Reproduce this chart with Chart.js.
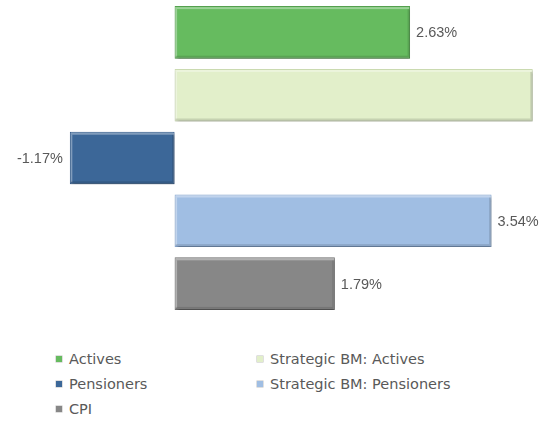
<!DOCTYPE html>
<html>
<head>
<meta charset="utf-8">
<script src="https://cdn.jsdelivr.net/npm/chart.js@4/dist/chart.umd.min.js"></script>
<style>
    body { margin: 0; background: #fff; }
    #wrap { position: relative; width: 539px; height: 421px; }
    #barChart { position: absolute; left: 0; top: 0; }
    #legend {
        position: absolute; left: 56px; top: 347px;
        display: grid; grid-template-columns: 201px auto;
    }
    .item {
        display: flex; align-items: center; height: 24.75px;
        font: 14.5px "DejaVu Sans", sans-serif; color: #595959; white-space: nowrap;
    }
    .box { width: 6px; height: 6px; margin-right: 7px; box-shadow: 0 0 0 0.5px rgba(0,0,0,0.25); }
</style>
</head>
<body>
<div id="wrap">
    <canvas id="barChart" width="539" height="315"></canvas>
    <div id="legend"></div>
</div>
<script>
const seriesNames = ['Actives', 'Strategic BM: Actives', 'Pensioners', 'Strategic BM: Pensioners', 'CPI'];
const returns = [2.63, 4.00, -1.17, 3.54, 1.79];
const barColors = ['#66bb5f', '#e2efca', '#3c6798', '#a0bee3', '#878787'];
const edgeColors = ['#56a450', '#cbdbb0', '#31598a', '#8aaad3', '#767676'];

document.addEventListener('DOMContentLoaded', function () {
    // soft shadow under the bars, like the office bevel style
    const barShadow = {
        id: 'barShadow',
        beforeDatasetsDraw(chart) {
            const ctx = chart.ctx;
            ctx.save();
            ctx.shadowColor = 'rgba(0,0,0,0.4)';
            ctx.shadowBlur = 3;
            ctx.shadowOffsetX = 1;
            ctx.shadowOffsetY = 2;
        },
        afterDatasetsDraw(chart) {
            chart.ctx.restore();
            // bevel: light top/left edge, darker bottom edge
            const ctx = chart.ctx;
            ctx.save();
            chart.getDatasetMeta(0).data.forEach(bar => {
                const left = Math.min(bar.x, bar.base);
                const right = Math.max(bar.x, bar.base);
                const top = bar.y - bar.height / 2;
                const bottom = bar.y + bar.height / 2;
                ctx.fillStyle = 'rgba(255,255,255,0.35)';
                ctx.fillRect(left + 1, top + 1, right - left - 2, 2);
                ctx.fillRect(left + 1, top + 3, 1.5, bottom - top - 5);
                ctx.fillStyle = 'rgba(0,0,0,0.12)';
                ctx.fillRect(left + 1, bottom - 3, right - left - 2, 2);
                ctx.fillRect(right - 2.5, top + 3, 1.5, bottom - top - 6);
            });
            ctx.restore();
        }
    };

    // value labels at the bar ends
    const valueLabels = {
        id: 'valueLabels',
        afterDraw(chart) {
            const ctx = chart.ctx;
            const area = chart.chartArea;
            const meta = chart.getDatasetMeta(0);
            ctx.save();
            ctx.font = '14.5px "Liberation Sans", sans-serif';
            ctx.fillStyle = '#595959';
            ctx.textBaseline = 'middle';
            meta.data.forEach((bar, i) => {
                const v = returns[i];
                const text = v.toFixed(2) + '%';
                const w = ctx.measureText(text).width;
                if (v >= 0) {
                    const x = bar.x + 6;
                    if (x + w > area.right) return;
                    ctx.textAlign = 'left';
                    ctx.fillText(text, x, bar.y + 1);
                } else {
                    ctx.textAlign = 'right';
                    ctx.fillText(text, bar.x - 7, bar.y + 1);
                }
            });
            ctx.restore();
        }
    };

    const ctx = document.getElementById('barChart').getContext('2d');
    const barChart = new Chart(ctx, {
        type: 'bar',
        data: {
            labels: seriesNames,
            datasets: [{
                data: returns,
                backgroundColor: barColors,
                borderColor: edgeColors,
                borderWidth: 1,
                borderSkipped: false,
                barPercentage: 0.837,
                categoryPercentage: 1
            }]
        },
        options: {
            indexAxis: 'y',
            responsive: false,
            animation: false,
            layout: { padding: { top: 1, bottom: 0, left: 0, right: 0 } },
            scales: {
                x: { display: false, min: -1.95, max: 4.07 },
                y: { display: false }
            },
            plugins: {
                legend: { display: false },
                tooltip: { enabled: false }
            }
        },
        plugins: [barShadow, valueLabels]
    });

    const legend = document.getElementById('legend');
    seriesNames.forEach((name, i) => {
        const item = document.createElement('div');
        item.className = 'item';
        const box = document.createElement('span');
        box.className = 'box';
        box.style.background = barColors[i];
        item.appendChild(box);
        item.appendChild(document.createTextNode(name));
        legend.appendChild(item);
    });
});
</script>
</body>
</html>
